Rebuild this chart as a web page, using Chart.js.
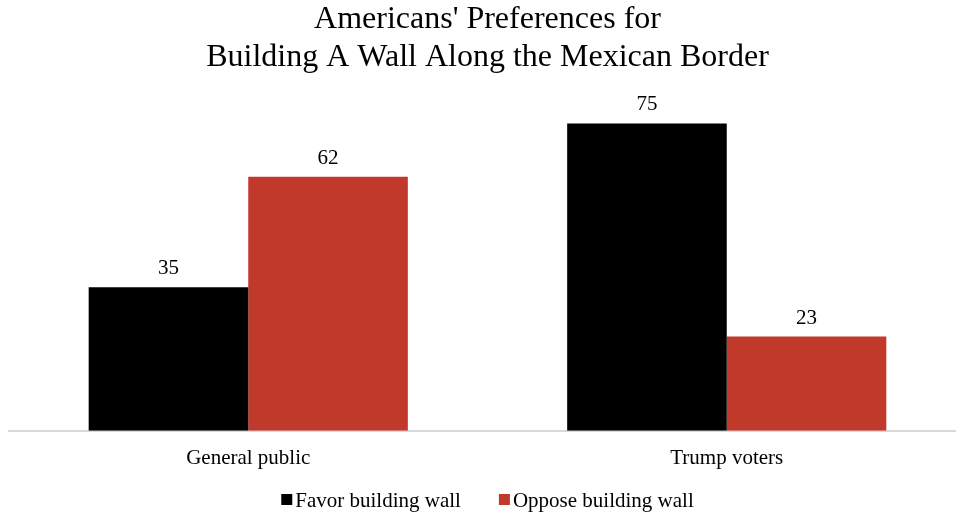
<!DOCTYPE html>
<html>
<head>
<meta charset="utf-8">
<script src="https://cdn.jsdelivr.net/npm/chart.js@4/dist/chart.umd.min.js"></script>
<style>
  html, body { margin: 0; padding: 0; background: #ffffff; overflow: hidden; width: 956px; height: 515px; }
  canvas { display: block; }
</style>
</head>
<body>
<canvas id="c" width="975" height="515"></canvas>
<script>
const titleLines = ["Americans' Preferences for", "Building A Wall Along the Mexican Border"];
const categories = ["General public", "Trump voters"];
const seriesNames = ["Favor building wall", "Oppose building wall"];
const favorValues = [35, 75];
const opposeValues = [62, 23];
const seriesColors = ["#000000", "#c0392b"];

const FONT = "'Liberation Serif', 'Times New Roman', serif";

const valueLabels = {
  id: 'valueLabels',
  afterDatasetsDraw(chart) {
    const ctx = chart.ctx;
    ctx.save();
    ctx.font = "21px " + FONT;
    ctx.fillStyle = "#000000";
    ctx.textAlign = "center";
    ctx.textBaseline = "alphabetic";
    chart.data.datasets.forEach((ds, i) => {
      const meta = chart.getDatasetMeta(i);
      meta.data.forEach((el, j) => {
        ctx.fillText(String(ds.data[j]), el.x, el.y - 13);
      });
    });
    ctx.restore();
  }
};

const customLegend = {
  id: 'customLegend',
  afterDraw(chart) {
    const ctx = chart.ctx;
    ctx.save();
    ctx.font = "21px " + FONT;
    ctx.textBaseline = "alphabetic";
    ctx.textAlign = "left";
    const box = 11, gapText = 3, gapItem = 38;
    const items = chart.data.datasets.map(ds => ({ label: ds.label, color: ds.backgroundColor, w: ctx.measureText(ds.label).width }));
    let total = 0;
    items.forEach((it, i) => { total += box + gapText + it.w + (i < items.length - 1 ? gapItem : 0); });
    let x = chart.width / 2 - total / 2;
    const baseline = 507;
    items.forEach(it => {
      ctx.fillStyle = it.color;
      ctx.fillRect(x, baseline - 13, box, box);
      ctx.fillStyle = "#000000";
      ctx.fillText(it.label, x + box + gapText, baseline);
      x += box + gapText + it.w + gapItem;
    });
    ctx.restore();
  }
};

new Chart(document.getElementById('c'), {
  type: 'bar',
  data: {
    labels: categories,
    datasets: [
      { label: seriesNames[0], data: favorValues, backgroundColor: seriesColors[0], borderWidth: 0 },
      { label: seriesNames[1], data: opposeValues, backgroundColor: seriesColors[1], borderWidth: 0 }
    ]
  },
  options: {
    responsive: false,
    animation: false,
    devicePixelRatio: 1,
    layout: { padding: { left: 9, right: 9, top: 1, bottom: 29 } },
    datasets: { bar: { categoryPercentage: 0.667, barPercentage: 1.0 } },
    plugins: {
      legend: { display: false },
      tooltip: { enabled: false },
      title: {
        display: true,
        text: titleLines,
        color: "#000000",
        font: { family: FONT, size: 32, weight: 'normal', lineHeight: 1.17 },
        padding: { top: 0, bottom: 27 }
      }
    },
    scales: {
      x: {
        grid: { display: false, drawTicks: false },
        border: { display: true, color: "#d9d9d9", width: 2 },
        ticks: { color: "#000000", font: { family: FONT, size: 21 }, padding: 15 }
      },
      y: {
        display: false,
        min: 0,
        max: 80
      }
    }
  },
  plugins: [valueLabels, customLegend]
});
</script>
</body>
</html>
